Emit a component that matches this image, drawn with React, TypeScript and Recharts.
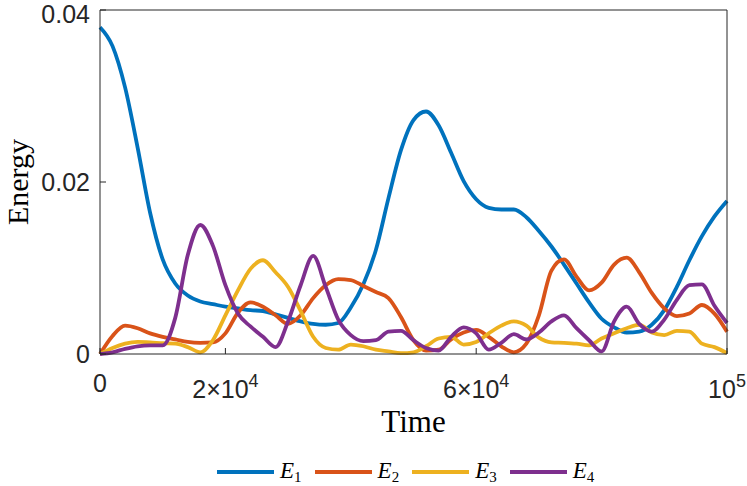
import { LineChart, Line, XAxis, YAxis } from 'recharts'

const times = [
  0, 2000, 4000, 6000, 8000, 10000, 12000, 14000, 16000, 18000, 20000, 22000, 24000, 26000, 28000, 30000, 32000,
  34000, 36000, 38000, 40000, 42000, 44000, 46000, 48000, 50000, 52000, 54000, 56000, 58000, 60000, 62000, 64000,
  66000, 68000, 70000, 72000, 74000, 76000, 78000, 80000, 82000, 84000, 86000, 88000, 90000, 92000, 94000, 96000,
  98000, 100000,
]

const energy1 = [
  0.038, 0.0358, 0.031, 0.024, 0.0164, 0.011, 0.0082, 0.0068, 0.0061, 0.0058, 0.0055, 0.0053, 0.0051, 0.005, 0.0046,
  0.0042, 0.0038, 0.0035, 0.0034, 0.0036, 0.0054, 0.0081, 0.0121, 0.0181, 0.0237, 0.0272, 0.0282, 0.0266, 0.0234,
  0.0201, 0.018, 0.017, 0.0168, 0.0168, 0.0159, 0.0143, 0.0125, 0.0104, 0.0082, 0.006, 0.0041, 0.0031, 0.0025, 0.0026,
  0.0034, 0.0051, 0.0078, 0.0109, 0.0137, 0.016, 0.0178,
]

const energy2 = [
  0, 0.0021, 0.0033, 0.003, 0.0024, 0.002, 0.0017, 0.0014, 0.0013, 0.00135, 0.0024, 0.0048, 0.006, 0.0055, 0.0045,
  0.0035, 0.0045, 0.0065, 0.008, 0.0087, 0.0086, 0.0079, 0.0072, 0.0065, 0.0043, 0.0016, 0.0004, 0.0005, 0.0017,
  0.0025, 0.0028, 0.002, 0.0009, 0.0002, 0.0012, 0.0045, 0.0097, 0.011, 0.009, 0.0074, 0.0083, 0.0104, 0.0112, 0.0095,
  0.0071, 0.0053, 0.0044, 0.0047, 0.0057, 0.0047, 0.0026,
]

const energy3 = [
  0, 0.0007, 0.0012, 0.0014, 0.00135, 0.00125, 0.0012, 0.0008, 0.0002, 0.0016, 0.0045, 0.0074, 0.0099, 0.0109, 0.0095,
  0.0078, 0.005, 0.002, 0.0007, 0.0005, 0.0011, 0.0009, 0.0005, 0.0003, 0.0001, 0.0002, 0.0009, 0.0018, 0.002, 0.0011,
  0.0014, 0.0024, 0.0033, 0.0038, 0.0033, 0.0019, 0.00135, 0.0013, 0.0012, 0.001, 0.0018, 0.0024, 0.003, 0.0034,
  0.0025, 0.0022, 0.0027, 0.0026, 0.0012, 0.0008, 0.0001,
]

const energy4 = [
  0, 0.0002, 0.0006, 0.0009, 0.001, 0.001, 0.0042, 0.0115, 0.015, 0.0126, 0.008, 0.0047, 0.0032, 0.002, 0.0008, 0.0038,
  0.008, 0.0114, 0.0078, 0.004, 0.0022, 0.0015, 0.0016, 0.0026, 0.0027, 0.0016, 0.0007, 0.0004, 0.002, 0.0031, 0.0024,
  0.0005, 0.0013, 0.0023, 0.0017, 0.0025, 0.0038, 0.0045, 0.003, 0.0016, 0.0003, 0.0038, 0.0055, 0.0035, 0.0026,
  0.004, 0.0063, 0.008, 0.0081, 0.0056, 0.0036,
]

const xTicks = [0, 20000, 60000, 100000]
const xTickLabels: Record<number, [string, string]> = {
  0: ['0', ''],
  20000: ['2×10', '4'],
  60000: ['6×10', '4'],
  100000: ['10', '5'],
}
const yTicks = [0, 0.02, 0.04]
const yTickLabels = ['0', '0.02', '0.04']

const series = [
  { key: 'E1', sub: '1', color: '#0072BD' },
  { key: 'E2', sub: '2', color: '#D95319' },
  { key: 'E3', sub: '3', color: '#EDB120' },
  { key: 'E4', sub: '4', color: '#7E2F8E' },
]

const data = times.map((time, i) => ({
  time,
  E1: energy1[i],
  E2: energy2[i],
  E3: energy3[i],
  E4: energy4[i],
}))

const axisColor = '#262626'
const sansFont = '"Liberation Sans", Arial, sans-serif'
const serifFont = '"Liberation Serif", "Times New Roman", serif'

function TimeTick(props: any) {
  const { x, y, payload } = props
  const [base, sup] = xTickLabels[payload.value] ?? [String(payload.value), '']
  return (
    <text x={x} y={sup ? y + 44 : y + 38} textAnchor='middle' fill={axisColor} fontFamily={sansFont} fontSize={25}>
      <tspan>{base}</tspan>
      {sup && (
        <tspan fontSize={18} dy={-11}>
          {sup}
        </tspan>
      )}
    </text>
  )
}

function ChartLegend() {
  return (
    <div
      style={{
        position: 'absolute',
        left: 217,
        top: 456,
        height: 32,
        display: 'flex',
        alignItems: 'center',
        gap: 13,
      }}
    >
      {series.map((s) => (
        <div key={s.key} style={{ display: 'flex', alignItems: 'center', gap: 6, height: 30 }}>
          <svg width={57} height={8}>
            <line x1={0} x2={57} y1={4} y2={4} stroke={s.color} strokeWidth={3.8} />
          </svg>
          <span style={{ fontFamily: serifFont, fontStyle: 'italic', fontSize: 23, color: '#000', lineHeight: '30px', whiteSpace: 'nowrap' }}>
            E
            <span style={{ fontStyle: 'normal', fontSize: 15, position: 'relative', top: 4 }}>{s.sub}</span>
          </span>
        </div>
      ))}
    </div>
  )
}

export default function App() {
  return (
    <div style={{ position: 'absolute', left: 0, top: 0, width: 747, height: 486, background: '#fff' }}>
      <LineChart width={747} height={486} data={data} margin={{ top: 9, right: 19, bottom: 0, left: 0 }}>
        <XAxis
          dataKey='time'
          type='number'
          domain={[0, 100000]}
          ticks={xTicks}
          height={132}
          stroke={axisColor}
          tickSize={-6}
          tickMargin={6}
          tick={<TimeTick />}
          interval={0}
          label={{
            content: (p: any) => {
              const vb = p.viewBox
              return (
                <text x={vb.x + vb.width / 2} y={vb.y + 78} textAnchor='middle' fontFamily={serifFont} fontSize={31} fill='#000'>
                  Time
                </text>
              )
            },
          }}
        />
        <XAxis
          xAxisId='top'
          orientation='top'
          type='number'
          domain={[0, 100000]}
          ticks={xTicks}
          height={1}
          stroke={axisColor}
          tickSize={-6}
          tick={false}
          allowDataOverflow
        />
        <YAxis
          type='number'
          domain={[0, 0.04]}
          ticks={yTicks}
          width={100}
          stroke={axisColor}
          tickSize={-6}
          tickMargin={16}
          tick={{ fill: axisColor, fontFamily: sansFont, fontSize: 25 }}
          tickFormatter={(v: number) => yTickLabels[yTicks.indexOf(v)] ?? String(v)}
          label={{
            content: (p: any) => {
              const vb = p.viewBox
              const cy = vb.y + vb.height / 2
              return (
                <text x={28} y={cy} transform={`rotate(-90 28 ${cy})`} textAnchor='middle' fontFamily={serifFont} fontSize={30} fill='#000'>
                  Energy
                </text>
              )
            },
          }}
        />
        <YAxis
          yAxisId='right'
          orientation='right'
          type='number'
          domain={[0, 0.04]}
          ticks={yTicks}
          width={1}
          stroke={axisColor}
          tickSize={-6}
          tick={false}
          allowDataOverflow
        />
        {series.map((s) => (
          <Line
            key={s.key}
            type='monotone'
            dataKey={s.key}
            stroke={s.color}
            strokeWidth={3.8}
            dot={false}
            activeDot={false}
            isAnimationActive={false}
          />
        ))}
      </LineChart>
      <ChartLegend />
    </div>
  )
}
